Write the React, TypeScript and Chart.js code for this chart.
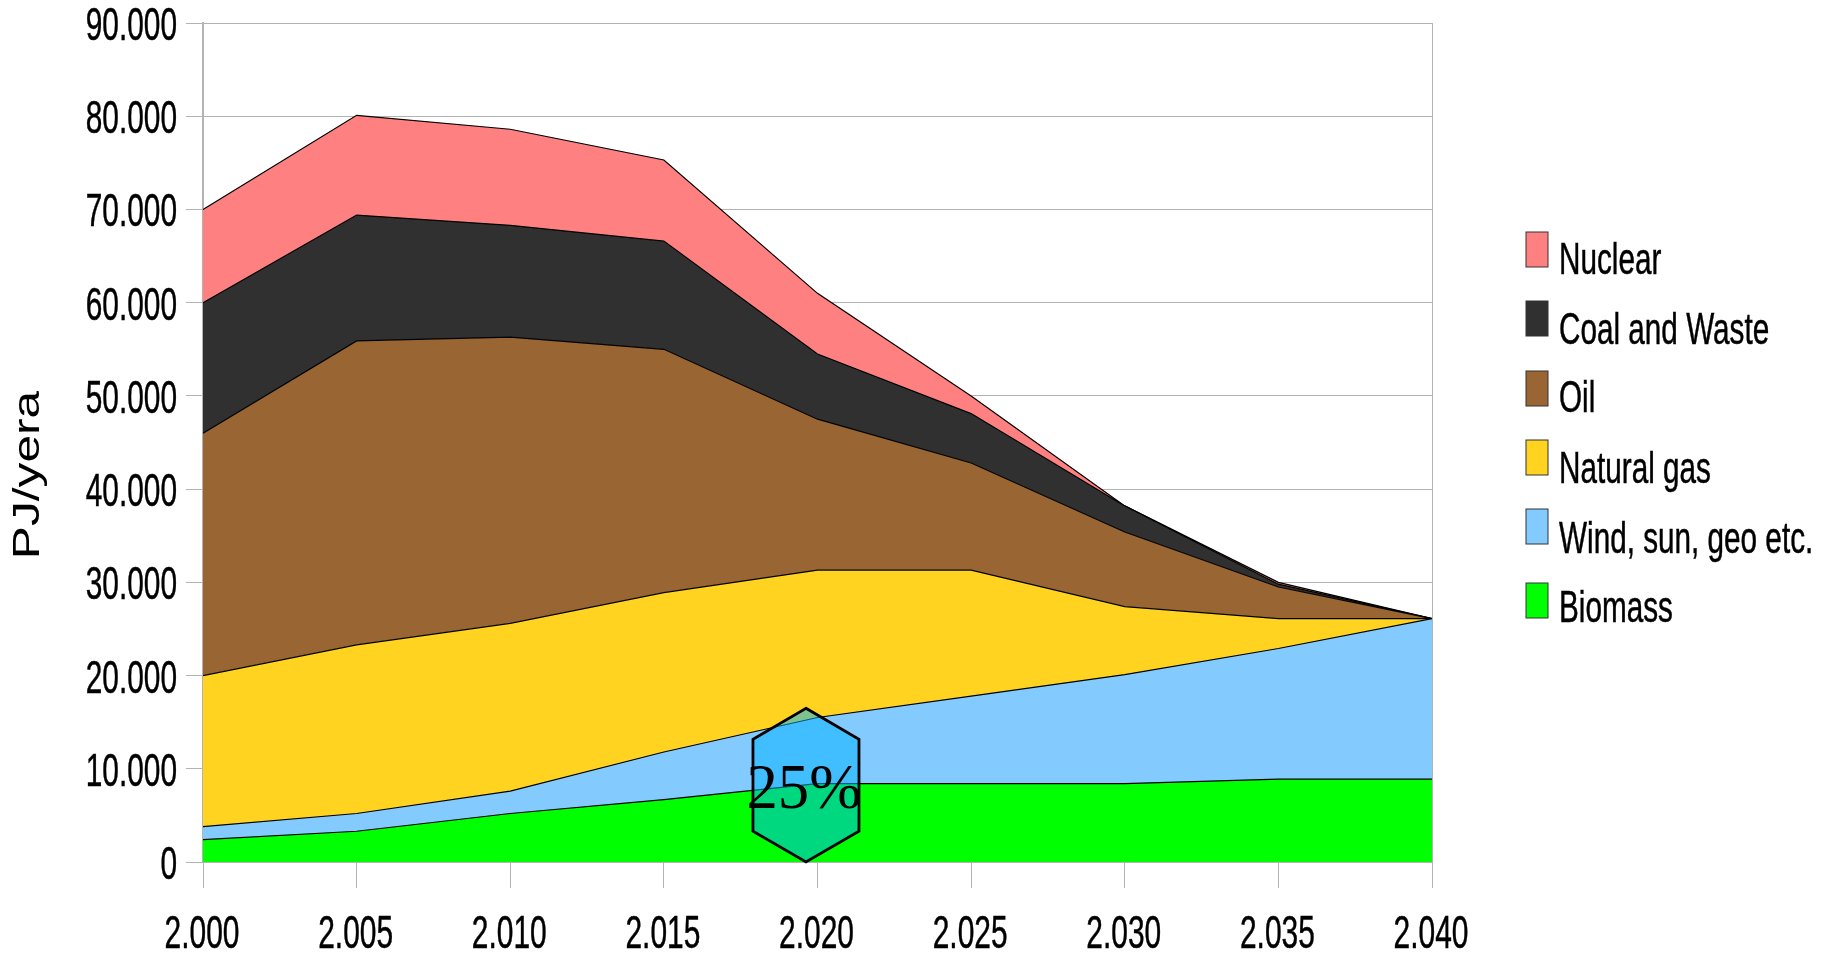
import React, { useEffect, useRef } from "react";
import { Chart, registerables } from "chart.js";

Chart.register(...registerables);

const years = ["2.000", "2.005", "2.010", "2.015", "2.020", "2.025", "2.030", "2.035", "2.040"];
const biomass = [2400, 3300, 5200, 6700, 8400, 8400, 8400, 8900, 8900];
const wind = [1400, 1900, 2400, 5100, 7100, 9400, 11700, 14000, 17200];
const gas = [16200, 18100, 18000, 17100, 15800, 13500, 7300, 3200, 0];
const oil = [26000, 32600, 30700, 26100, 16200, 11500, 8000, 3400, 0];
const coal = [14000, 13500, 12000, 11600, 7000, 5300, 2800, 300, 0];
const nuclear = [10000, 10700, 10300, 8700, 6500, 1900, 0, 200, 0];

const yTicks = ["0", "10.000", "20.000", "30.000", "40.000", "50.000", "60.000", "70.000", "80.000", "90.000"];
const legendOrder = [5, 4, 3, 2, 1, 0];
const hexX = 3.925;
const hexHalfW = 0.345;
const hexLevels = [0, 3300, 13170, 16490];

const GRID = "#b3b3b3";

function stretched(ctx: CanvasRenderingContext2D, text: string, x: number, y: number, size: number, sx: number, align: CanvasTextAlign, family = "'Liberation Sans'", weight = 0.5) {
  ctx.save();
  ctx.translate(x, y);
  ctx.scale(sx, 1);
  ctx.font = `${size}px ${family}`;
  ctx.textAlign = align;
  ctx.textBaseline = "alphabetic";
  ctx.fillStyle = "#000";
  ctx.fillText(text, 0, 0);
  if (weight > 0) {
    ctx.strokeStyle = "#000";
    ctx.lineWidth = weight;
    ctx.strokeText(text, 0, 0);
  }
  ctx.restore();
}

const overlay = {
  id: "overlay",
  afterDraw(chart: any) {
    const ctx: CanvasRenderingContext2D = chart.ctx;
    const xs = chart.scales.x;
    const ys = chart.scales.y;

    // tick labels
    xs.ticks.forEach((_: any, i: number) => {
      stretched(ctx, years[i], xs.getPixelForTick(i) - 1, 948, 46, 0.65, "center");
    });
    ys.ticks.forEach((t: any, i: number) => {
      stretched(ctx, yTicks[i], 177, ys.getPixelForValue(t.value) + 17, 47, 0.635, "right");
    });

    // axis title
    ctx.save();
    ctx.translate(39, 475);
    ctx.rotate(-Math.PI / 2);
    stretched(ctx, "PJ/yera", 0, 0, 36, 1.38, "center", "'Liberation Sans'", 0);
    ctx.restore();

    // hexagon annotation
    const L = xs.getPixelForValue(hexX - hexHalfW);
    const C = xs.getPixelForValue(hexX);
    const R = xs.getPixelForValue(hexX + hexHalfW);
    const [y0, y1, y2, y3] = hexLevels.map((v) => ys.getPixelForValue(v));
    ctx.save();
    ctx.beginPath();
    ctx.moveTo(C, y3);
    ctx.lineTo(R, y2);
    ctx.lineTo(R, y1);
    ctx.lineTo(C, y0);
    ctx.lineTo(L, y1);
    ctx.lineTo(L, y2);
    ctx.closePath();
    ctx.fillStyle = "rgba(0,177,255,0.5)";
    ctx.fill();
    ctx.strokeStyle = "#000";
    ctx.lineWidth = 2.8;
    ctx.stroke();
    ctx.restore();
    stretched(ctx, "25%", C - 2, 808, 64, 0.98, "center", "'Liberation Serif'", 0);

    // legend
    const rowsY = [232, 301, 371, 440, 509, 583];
    const baseY = [274, 344, 412, 483, 553, 622];
    legendOrder.forEach((di, row) => {
      const ds = chart.data.datasets[di];
      ctx.fillStyle = ds.backgroundColor;
      ctx.fillRect(1526, rowsY[row], 22, 35);
      ctx.strokeStyle = "#333";
      ctx.lineWidth = 1;
      ctx.strokeRect(1526, rowsY[row], 22, 35);
      stretched(ctx, ds.label, 1559, baseY[row], 44, 0.675, "left");
    });
  },
};

export default function App() {
  const ref = useRef<HTMLCanvasElement>(null);
  useEffect(() => {
    const series: [string, number[], string][] = [
      ["Biomass", biomass, "#00ff00"],
      ["Wind, sun, geo etc.", wind, "#83caff"],
      ["Natural gas", gas, "#ffd320"],
      ["Oil", oil, "#996633"],
      ["Coal and Waste", coal, "#303030"],
      ["Nuclear", nuclear, "#ff8080"],
    ];
    const chart = new Chart(ref.current!, {
      type: "line",
      data: {
        labels: years,
        datasets: series.map(([label, data, color], i) => ({
          label,
          data,
          backgroundColor: color,
          borderColor: "#000",
          borderWidth: 1.2,
          pointRadius: 0,
          tension: 0,
          fill: i === 0 ? "origin" : "-1",
        })),
      },
      options: {
        animation: false,
        responsive: false,
        layout: { padding: { left: 186, top: 23, right: 410, bottom: 73 } },
        plugins: { legend: { display: false }, title: { display: false }, tooltip: { enabled: false } },
        scales: {
          x: {
            type: "category",
            offset: false,
            ticks: { display: false },
            border: { color: GRID, width: 2 },
            grid: {
              color: (c: any) => (c.index === 0 || c.index === years.length - 1 ? GRID : "rgba(0,0,0,0)"),
              tickColor: GRID,
              tickLength: 26,
              lineWidth: 1,
              drawOnChartArea: true,
            },
          },
          y: {
            stacked: true,
            min: 0,
            max: 90000,
            ticks: { display: false, stepSize: 10000 },
            border: { color: GRID, width: 2 },
            grid: { color: GRID, tickColor: GRID, tickLength: 17, lineWidth: 1 },
          },
        },
      },
      plugins: [overlay],
    } as any);
    return () => chart.destroy();
  }, []);
  return (
    <div style={{ position: "absolute", left: 0, top: 0, width: 1842, height: 961, background: "#fff" }}>
      <canvas ref={ref} width={1842} height={961} style={{ display: "block" }} />
    </div>
  );
}
